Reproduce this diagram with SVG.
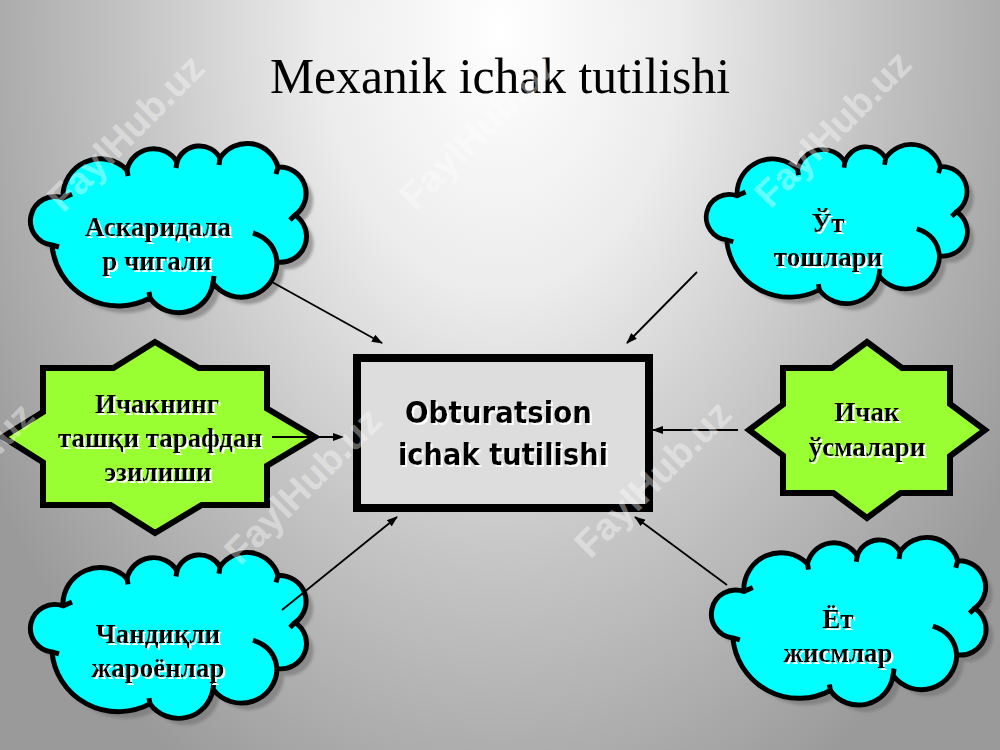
<svg xmlns="http://www.w3.org/2000/svg" xmlns:xlink="http://www.w3.org/1999/xlink" width="1000" height="750" viewBox="0 0 1000 750">
<defs>
  <radialGradient id="bg" gradientUnits="userSpaceOnUse" cx="500" cy="30" r="700" gradientTransform="translate(500 30) scale(0.85 1.25) translate(-500 -30)">
    <stop offset="0" stop-color="#ffffff"/>
    <stop offset="0.3" stop-color="#ececec"/>
    <stop offset="0.62" stop-color="#c4c4c4"/>
    <stop offset="1" stop-color="#9a9a9a"/>
  </radialGradient>
  <filter id="ts" x="-10%" y="-20%" width="130%" height="150%">
    <feOffset in="SourceAlpha" dx="1.5" dy="1.5" result="o"/>
    <feFlood flood-color="#ffffff"/>
    <feComposite in2="o" operator="in" result="w"/>
    <feMerge><feMergeNode in="w"/><feMergeNode in="SourceGraphic"/></feMerge>
  </filter>
  <filter id="blur" x="-10%" y="-10%" width="120%" height="120%">
    <feGaussianBlur stdDeviation="1.5"/>
  </filter>
  <marker id="ah" markerWidth="11" markerHeight="8" refX="10" refY="4" orient="auto" markerUnits="userSpaceOnUse">
    <path d="M0,0 L11,4 L0,8 z" fill="#000"/>
  </marker>
  <path id="cloudShape" d="M25,101 A24.3,24.3 0 1 1 36,54 A37.4,37.4 0 0 1 100,26 A27.3,27.3 0 0 1 150,18 A23.6,23.6 0 0 1 193,14 A32.2,32.2 0 0 1 251,23 A26.5,26.5 0 0 1 268,71 A25.8,25.8 0 0 1 250,118 A35.6,35.6 0 0 1 186,139 A34.9,34.9 0 0 1 123,154 A66.7,66.7 0 0 1 25,101 Z"/>
  <path id="cloudTicks" d="M25,101 L32,103 M36,54 L45,50 M100,26 L101,32 M150,18 L149,24 M193,14 L192,21 M251,23 L249,30 M268,71 L263,76 M226,89 Q248,96 250,118 M186,139 L187,132 M123,154 L122,148"/>
  <g id="cloud">
    <use xlink:href="#cloudShape" transform="translate(7,7)" fill="#707070" fill-opacity="0.6" stroke="none" filter="url(#blur)"/>
    <use xlink:href="#cloudShape" fill="#00FFFF" stroke="#000" stroke-width="5" stroke-linejoin="round"/>
    <use xlink:href="#cloudTicks" fill="none" stroke="#000" stroke-width="5" stroke-linecap="butt"/>
  </g>
</defs>
<style>
  .lbl { font-family: "Liberation Serif", "Times New Roman", serif; font-weight: bold; font-size: 27px; fill: #000; text-anchor: middle; }
  .ctr { font-family: "DejaVu Sans", Verdana, sans-serif; font-weight: bold; font-size: 30px; fill: #000; }
  .star { fill: #99FF33; stroke: #000; stroke-width: 6; stroke-linejoin: miter; }
  .conn { stroke: #000; stroke-width: 1.8; fill: none; marker-end: url(#ah); }
  .wm { font-family: "Liberation Sans", Arial, sans-serif; font-weight: bold; font-size: 38px; fill: #ffffff; fill-opacity: 0.4; text-anchor: middle; }
</style>

<rect x="0" y="0" width="1000" height="750" fill="url(#bg)"/>

<text x="500" y="93" font-family="Liberation Serif, Times New Roman, serif" font-size="50" text-anchor="middle" textLength="460" lengthAdjust="spacingAndGlyphs" fill="#000">Mexanik ichak tutilishi</text>

<g id="node-askaridalar">
  <use xlink:href="#cloud" transform="translate(27,144)"/>
  <g filter="url(#ts)">
    <text class="lbl" x="158" y="236">Аскаридала</text>
    <text class="lbl" x="157" y="270">р чигали</text>
  </g>
</g>

<g id="node-ut-toshlari">
  <use xlink:href="#cloud" transform="translate(703,145) scale(0.946,0.94)"/>
  <g filter="url(#ts)">
    <text class="lbl" x="828" y="232">Ўт</text>
    <text class="lbl" x="828" y="266">тошлари</text>
  </g>
</g>

<g id="node-chandiqli">
  <use xlink:href="#cloud" transform="translate(27,553) scale(1,0.98)"/>
  <g filter="url(#ts)">
    <text class="lbl" x="158" y="643">Чандиқли</text>
    <text class="lbl" x="158" y="677">жароёнлар</text>
  </g>
</g>

<g id="node-yot-jismlar">
  <use xlink:href="#cloud" transform="translate(708,538) scale(0.995,0.99)"/>
  <g filter="url(#ts)">
    <text class="lbl" x="838" y="628">Ёт</text>
    <text class="lbl" x="838" y="662">жисмлар</text>
  </g>
</g>

<g id="node-ichakning">
  <polygon class="star" points="155,342 198.8,368 267,368 267,408.5 315,437 267,465.8 267,505 201.7,505 155,533 110.7,505 43,505 43,462.3 3,437 43,412 43,368 113.4,368"/>
  <g filter="url(#ts)">
    <text class="lbl" x="157" y="413">Ичакнинг</text>
    <text class="lbl" x="160" y="447">ташқи тарафдан</text>
    <text class="lbl" x="158" y="481">эзилиши</text>
  </g>
</g>

<g id="node-ichak-usmalari">
  <polygon class="star" points="867,342 901.9,368 950,368 950,403.9 985,430 950,456.1 950,493 900.5,493 867,518 833.5,493 783,493 783,455.4 749,430 783,404.6 783,368 832.1,368"/>
  <g filter="url(#ts)">
    <text class="lbl" x="867" y="421">Ичак</text>
    <text class="lbl" x="867" y="456">ўсмалари</text>
  </g>
</g>

<g id="node-obturatsion">
  <rect x="357" y="358" width="292" height="150" fill="#dddddd" stroke="#000" stroke-width="8"/>
  <g filter="url(#ts)">
    <text class="ctr" x="405" y="423" textLength="187" lengthAdjust="spacingAndGlyphs">Obturatsion</text>
    <text class="ctr" x="398" y="465" textLength="210" lengthAdjust="spacingAndGlyphs">ichak tutilishi</text>
  </g>
</g>

<g id="connectors">
  <line class="conn" x1="272" y1="282" x2="382" y2="343"/>
  <line class="conn" x1="697" y1="272" x2="627" y2="343"/>
  <line class="conn" x1="272" y1="437" x2="343" y2="437"/>
  <line class="conn" x1="738" y1="430" x2="653" y2="430"/>
  <line class="conn" x1="282" y1="610" x2="397" y2="517"/>
  <line class="conn" x1="727" y1="585" x2="635" y2="517"/>
</g>

<g id="watermarks">
  <text class="wm" transform="translate(135,142) rotate(-45)">FaylHub.uz</text>
  <text class="wm" transform="translate(487,140) rotate(-45)">FaylHub.uz</text>
  <text class="wm" transform="translate(842,138) rotate(-45)">FaylHub.uz</text>
  <text class="wm" transform="translate(-35,490) rotate(-45)">FaylHub.uz</text>
  <text class="wm" transform="translate(312,495) rotate(-45)">FaylHub.uz</text>
  <text class="wm" transform="translate(662,488) rotate(-45)">FaylHub.uz</text>
</g>
</svg>
